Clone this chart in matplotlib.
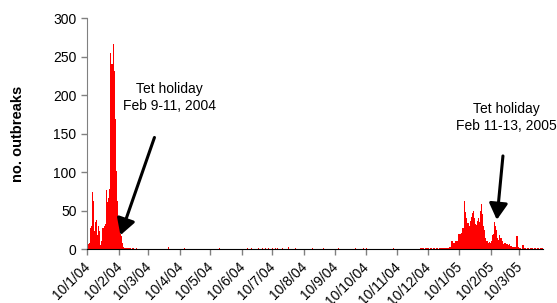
import matplotlib
matplotlib.use("Agg")
import matplotlib.pyplot as plt
import matplotlib.transforms as mtransforms
from datetime import datetime

plt.rcParams['font.family'] = ['Liberation Sans', 'DejaVu Sans']

start_date = "10/1/04"          # day 0 of the series (d/m/y)

# Wave 1: daily outbreaks from day 0
wave1_values = [4, 6, 8, 28, 30, 74, 63, 24, 35, 38, 18, 30, 24, 5, 10, 28, 28, 30,
                32, 77, 61, 66, 78, 255, 240, 240, 266, 231, 169, 101, 62, 40, 27,
                20, 17, 8, 3, 2, 2, 2, 1, 2, 2, 0, 2, 2, 0, 0, 2]

# Sporadic outbreaks between the waves (day index, count)
sparse_days = [80, 96, 130, 158, 162, 168, 172, 175, 178, 182, 185, 187, 192, 198,
               205, 222, 232, 247, 264, 272, 275, 301, 328, 329, 330, 331, 333, 334,
               335, 336, 338, 339, 341, 342, 344, 345, 347, 348, 349, 350, 351, 352,
               353, 354, 355]
sparse_vals = [3, 2, 1, 1, 1, 1, 1, 1, 2, 1, 1, 1, 1, 3,
               1, 1, 1, 1, 1, 1, 1, 1, 1, 1, 1, 1, 1, 1,
               1, 1, 1, 1, 1, 1, 1, 1, 1, 1, 1, 1, 1, 1,
               1, 1, 1]

# Wave 2: daily outbreaks starting at day 356
wave2_start = 356
wave2_values = [3, 3, 11, 11, 8, 8, 10, 10, 10, 20, 20, 20, 21, 27, 27, 63, 48, 40,
                34, 34, 30, 36, 42, 47, 50, 40, 33, 31, 36, 40, 35, 49, 58, 45, 30,
                25, 15, 10, 10, 8, 9, 8, 10, 18, 20, 35, 30, 25, 15, 12, 18, 14, 14,
                10, 7, 8, 8, 6, 5, 6, 4, 4, 3, 3, 3, 3, 17, 17, 3, 1, 1, 0, 5, 5, 2,
                1, 0, 1, 1, 0, 1, 1, 1, 0, 1, 1, 0, 1, 1, 0, 1, 1, 1]

tick_labels = ["10/1/04", "10/2/04", "10/3/04", "10/4/04", "10/5/04", "10/6/04",
               "10/7/04", "10/8/04", "10/9/04", "10/10/04", "10/11/04", "10/12/04",
               "10/1/05", "10/2/05", "10/3/05"]

annot1 = "Tet holiday\nFeb 9-11, 2004"
annot2 = "Tet holiday\nFeb 11-13, 2005"

d0 = datetime.strptime(start_date, "%d/%m/%y")
tick_pos = [(datetime.strptime(t, "%d/%m/%y") - d0).days for t in tick_labels]

days = list(range(len(wave1_values))) + sparse_days + \
       [wave2_start + i for i in range(len(wave2_values))]
vals = wave1_values + sparse_vals + wave2_values

fig = plt.figure(figsize=(5.57, 3.03), dpi=100)
ax = fig.add_axes([0.156, 0.178, 0.819, 0.762])
ax.bar(days, vals, width=1.0, color="#FF0000", linewidth=0)

ax.set_xlim(-0.5, 448.5)
ax.set_ylim(0, 300)
ax.set_yticks(range(0, 301, 50))
ax.set_xticks(tick_pos)
ax.set_xticklabels(tick_labels, rotation=45, ha="right", rotation_mode="anchor")
ax.tick_params(axis="both", labelsize=10, length=4, color="#808080", width=1)
ax.tick_params(axis="x", pad=3)
offset = mtransforms.ScaledTranslation(-4 / 100, -1 / 100, fig.dpi_scale_trans)
for lbl in ax.get_xticklabels():
    lbl.set_transform(lbl.get_transform() + offset)
for s in ["top", "right"]:
    ax.spines[s].set_visible(False)
ax.spines["left"].set_color("#808080")
ax.spines["bottom"].set_color("black")
ax.set_ylabel("no. outbreaks", fontsize=10.5, fontweight="bold", labelpad=20)

astyle = dict(arrowstyle="-|>,head_length=0.7,head_width=0.4", color="black",
              lw=2.2, mutation_scale=14, shrinkA=0, shrinkB=0)
ax.text(81, 197, annot1, ha="center", va="center", fontsize=10, linespacing=1.3)
ax.annotate("", xy=(32.5, 18), xytext=(66, 145), arrowprops=astyle)
ax.text(412, 171, annot2, ha="center", va="center", fontsize=10, linespacing=1.3,
        clip_on=False)
ax.annotate("", xy=(403, 38), xytext=(409, 121), arrowprops=astyle)

fig.savefig("out.png", dpi=100)
